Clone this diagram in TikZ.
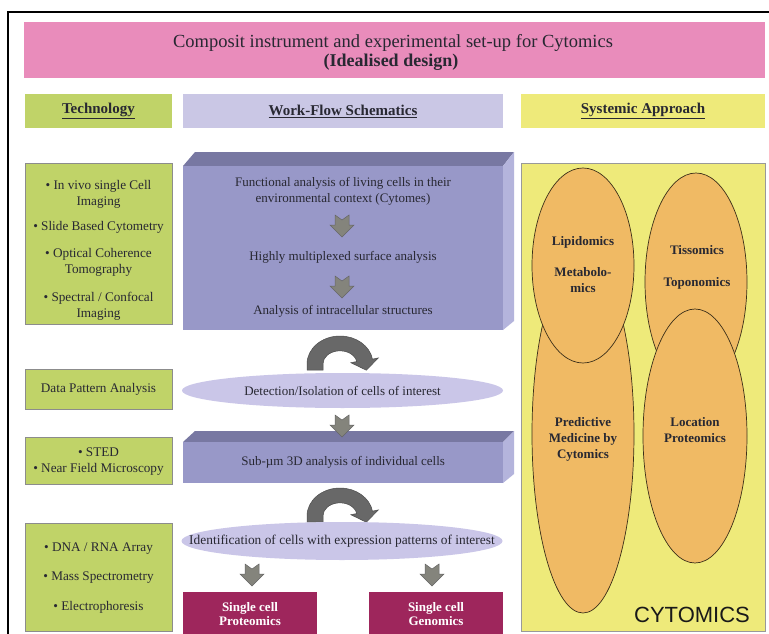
\documentclass[tikz,border=0pt]{standalone}
\usepackage{fontspec}
\setmainfont{Liberation Serif}
\newfontfamily\sansf{Liberation Sans}
\usetikzlibrary{shapes.geometric}
\definecolor{pinkc}{RGB}{233,140,187}
\definecolor{techc}{RGB}{192,211,104}
\definecolor{headc}{RGB}{202,199,229}
\definecolor{sysc}{RGB}{238,234,122}
\definecolor{frontc}{RGB}{152,152,200}
\definecolor{topc}{RGB}{120,120,162}
\definecolor{sidec}{RGB}{180,180,220}
\definecolor{ellc}{RGB}{202,198,232}
\definecolor{orc}{RGB}{240,186,100}
\definecolor{magc}{RGB}{158,38,92}
\definecolor{txtc}{RGB}{40,40,50}
\definecolor{arrc}{RGB}{132,132,124}
\definecolor{carrc}{RGB}{104,104,104}
\begin{document}
\begin{tikzpicture}[x=1pt,y=-1pt,
  every node/.style={text=txtc, inner sep=0pt},
  wtxt/.style={font=\fontsize{13}{16}\selectfont, align=center},
  ttxt/.style={font=\fontsize{13.2}{16}\selectfont, align=center},
  techbox/.style={draw=black!45, line width=0.6pt, fill=techc, minimum width=147pt},
  headbox/.style={fill=#1, minimum height=34pt},
  hdr/.style={font=\fontsize{15}{18}\selectfont\bfseries},
  orell/.style={draw=black!75!orc, line width=0.7pt, fill=orc},
  oell/.style={font=\fontsize{13}{16}\selectfont\bfseries, align=center},
  lavell/.style={ellipse, fill=ellc, minimum width=321pt, inner sep=0pt},
  magbox/.style={fill=magc, minimum width=134pt, minimum height=50pt, anchor=north west},
  downarr/.pic={\filldraw[fill=arrc, draw=black!60, line width=0.5pt] (-7,0) -- (0,5) -- (7,0) -- (7,10) -- (12,10) -- (0,22) -- (-12,10) -- (-7,10) -- cycle;},
  curvarr/.pic={\filldraw[fill=carrc, draw=black!70, line width=0.5pt] (-33,6) -- (-33,0) arc[start angle=180,end angle=350,x radius=33,y radius=28] -- (38.4,-6.1) -- (26.3,6.2) -- (10.8,-1.3) -- (16.74,-2.43) arc[start angle=350,end angle=180,x radius=17,y radius=13] -- (-17,6) -- cycle;}
]
\useasboundingbox (0,0) rectangle (769,634);
\fill[white] (0,0) rectangle (769,634);
% outer frame
\draw[line width=1.6pt] (8,12) rectangle (790,660);

% title
\node[fill=pinkc, minimum width=741pt, minimum height=56pt] (title) at (394.5,50) {};
\node[font=\fontsize{18.5}{20}\selectfont] (t1) at (393,43) {Composit instrument and experimental set-up for Cytomics};
\node[font=\fontsize{18}{20}\selectfont\bfseries] (t2) at (391,62) {(Idealised design)};

% headers
\node[headbox=techc, minimum width=147pt] (h1) at (98.5,111) {};
\node[hdr] at (h1) {\underline{Technology}};
\node[headbox=headc, minimum width=320pt] (h2) at (343,111) {};
\node[hdr] at (h2) {\underline{Work-Flow Schematics}};
\node[headbox=sysc, minimum width=244pt] (h3) at (643,111) {};
\node[hdr] at (h3) {\underline{Systemic Approach}};

% technology boxes
\node[techbox, minimum height=161pt] (tb1) at (98.5,243.5) {};
\node[ttxt] (tb1a) at (98.5,194) {• In vivo single Cell\\Imaging};
\node[ttxt] (tb1b) at (98.5,227) {• Slide Based Cytometry};
\node[ttxt] (tb1c) at (98.5,262.5) {• Optical Coherence\\Tomography};
\node[ttxt] (tb1d) at (98.5,306) {• Spectral / Confocal\\Imaging};
\node[techbox, minimum height=40pt] (tb2) at (98.5,389) {};
\node[ttxt] at (tb2) {Data Pattern Analysis};
\node[techbox, minimum height=47pt] (tb3) at (98.5,460.5) {};
\node[ttxt] at (98.5,462) {• STED\\• Near Field Microscopy};
\node[techbox, minimum height=108pt] (tb4) at (98.5,577) {};
\node[ttxt] (tb4a) at (98.5,549) {• DNA / RNA Array};
\node[ttxt] (tb4b) at (98.5,578) {• Mass Spectrometry};
\node[ttxt] (tb4c) at (98.5,607) {• Electrophoresis};

% 3D box 1
\fill[topc] (183,166) -- (195,152) -- (514,152) -- (503,166) -- cycle;
\fill[sidec] (503,166) -- (514,152) -- (514,321) -- (503,330) -- cycle;
\node[fill=frontc, minimum width=320pt, minimum height=164pt, anchor=north west] (box1) at (183,166) {};
\node[wtxt] (w1) at (343,191) {Functional analysis of living cells in their\\environmental context (Cytomes)};
\pic at (342,215) {downarr};
\node[wtxt] (w2) at (343,257) {Highly multiplexed surface analysis};
\pic at (342,276) {downarr};
\node[wtxt] (w3) at (343,311) {Analysis of intracellular structures};

% curved arrow 1 and ellipse 1
\pic at (340,364) {curvarr};
\node[lavell, minimum height=35pt] (e1) at (342.5,390.5) {};
\node[wtxt] at (e1) {Detection/Isolation of cells of interest};

% 3D box 2
\fill[topc] (183,442) -- (195,431) -- (514,431) -- (503,442) -- cycle;
\fill[sidec] (503,442) -- (514,431) -- (514,474) -- (503,483) -- cycle;
\node[fill=frontc, minimum width=320pt, minimum height=41pt, anchor=north west] (box2) at (183,442) {};
\pic at (342,415) {downarr};
\node[wtxt] at (box2) {Sub-µm 3D analysis of individual cells};

% curved arrow 2 and ellipse 2
\pic at (340,516) {curvarr};
\node[lavell, minimum height=38pt] (e2) at (342,541) {};
\node[font=\fontsize{13.4}{16}\selectfont] at (e2) {Identification of cells with expression patterns of interest};
\pic at (252,564) {downarr};
\pic at (432,564) {downarr};

% output boxes
\node[magbox] (m1) at (183,592) {};
\node[magbox] (m2) at (369,592) {};
\node[font=\fontsize{13}{14}\selectfont\bfseries, text=white, align=center] at (250,614) {Single cell\\Proteomics};
\node[font=\fontsize{13}{14}\selectfont\bfseries, text=white, align=center] at (436,614) {Single cell\\Genomics};

% systemic panel
\node[draw=black!40, line width=0.6pt, fill=sysc, minimum width=244pt, minimum height=468pt, anchor=north west] (sys) at (521,163) {};
\node[orell, ellipse, minimum width=102pt, minimum height=358pt] (el3) at (583,434) {};
\node[orell, ellipse, minimum width=102pt, minimum height=195pt] (el1) at (583,265.5) {};
\node[orell, ellipse, minimum width=102pt, minimum height=218pt] (el2) at (696,282) {};
\node[orell, ellipse, minimum width=104pt, minimum height=254pt] (el4) at (695,436) {};
\node[oell] at (583,242) {Lipidomics};
\node[oell] at (583,280.5) {Metabolo-\\mics};
\node[oell] at (697,250) {Tissomics};
\node[oell] at (697,283) {Toponomics};
\node[oell] at (583,439) {Predictive\\Medicine by\\Cytomics};
\node[oell] at (695,430) {Location\\Proteomics};
\node[font=\sansf\fontsize{22}{24}\selectfont, text=black!90] (cyt) at (692,615) {CYTOMICS};
\end{tikzpicture}
\end{document}
